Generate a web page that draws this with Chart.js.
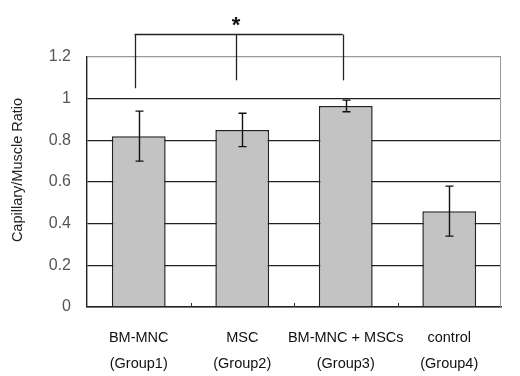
<!DOCTYPE html>
<html><head><meta charset="utf-8">
<script src="https://cdn.jsdelivr.net/npm/chart.js@4.4.1/dist/chart.umd.min.js"></script>
<style>html,body{margin:0;padding:0;background:#fff}#wrap{width:520px;height:376px}</style>
</head><body><div id="wrap"><canvas id="c" width="520" height="376"></canvas></div>
<script>
const groupNames = ['BM-MNC', 'MSC', 'BM-MNC + MSCs', 'control'];
const groupIds = ['(Group1)', '(Group2)', '(Group3)', '(Group4)'];
const means = [0.82, 0.85, 0.965, 0.46];
const errors = [0.12, 0.08, 0.028, 0.12];
const yTicks = [0, 0.2, 0.4, 0.6, 0.8, 1, 1.2];
const yTickLabels = ['0', '0.2', '0.4', '0.6', '0.8', '1', '1.2'];
const bracketAt = [-0.04, 0.94, 1.97];
const bracketEnds = [1.05, 1.088, 1.088];
const bracketTop = 1.31;
const starAt = 0.94, starY = 1.37, starText = '*';
const yTitle = 'Capillary/Muscle Ratio';

const labels = groupNames.map((n, i) => [n, groupIds[i]]);

const extras = {
  id: 'extras',
  afterDatasetsDraw(chart) {
    const ctx = chart.ctx, xs = chart.scales.x, ys = chart.scales.y, ca = chart.chartArea;
    ctx.save();
    ctx.strokeStyle = '#999'; ctx.lineWidth = 1;
    ctx.beginPath(); ctx.moveTo(ca.right - 0.5, ca.top); ctx.lineTo(ca.right - 0.5, ca.bottom); ctx.stroke();
    ctx.strokeStyle = '#333';
    for (let i = 0; i < labels.length - 1; i++) {
      const x = Math.round(xs.getPixelForValue(i + 0.5)) + 0.5;
      ctx.beginPath(); ctx.moveTo(x, ca.bottom); ctx.lineTo(x, ca.bottom - 4); ctx.stroke();
    }
    ctx.strokeStyle = '#111'; ctx.lineWidth = 1.4;
    const meta = chart.getDatasetMeta(0);
    meta.data.forEach((bar, i) => {
      const x = Math.round(bar.x) + 0.5;
      const yT = ys.getPixelForValue(means[i] + errors[i]);
      const yB = ys.getPixelForValue(means[i] - errors[i]);
      ctx.beginPath();
      ctx.moveTo(x, yT); ctx.lineTo(x, yB);
      ctx.moveTo(x - 4, yT); ctx.lineTo(x + 4, yT);
      ctx.moveTo(x - 4, yB); ctx.lineTo(x + 4, yB);
      ctx.stroke();
    });
    ctx.strokeStyle = '#222'; ctx.lineWidth = 1.3;
    const yTop = Math.round(ys.getPixelForValue(bracketTop)) + 0.5;
    const xL = xs.getPixelForValue(bracketAt[0]);
    const xR = xs.getPixelForValue(bracketAt[bracketAt.length - 1]);
    ctx.beginPath(); ctx.moveTo(xL, yTop); ctx.lineTo(xR, yTop); ctx.stroke();
    bracketAt.forEach((v, i) => {
      const x = Math.round(xs.getPixelForValue(v)) + 0.5;
      ctx.beginPath(); ctx.moveTo(x, yTop); ctx.lineTo(x, ys.getPixelForValue(bracketEnds[i])); ctx.stroke();
    });
    ctx.fillStyle = '#111';
    ctx.font = 'bold 22px "Liberation Sans", Arial, sans-serif';
    ctx.textAlign = 'center'; ctx.textBaseline = 'middle';
    ctx.fillText(starText, xs.getPixelForValue(starAt), ys.getPixelForValue(starY) + 4);
    ctx.save();
    ctx.translate(18, 170);
    ctx.rotate(-Math.PI / 2);
    ctx.font = '14.5px "Liberation Sans", Arial, sans-serif';
    ctx.fillStyle = '#222';
    ctx.fillText(yTitle, 0, 0);
    ctx.restore();
    ctx.restore();
  }
};

new Chart(document.getElementById('c'), {
  type: 'bar',
  data: {
    labels: labels,
    datasets: [{
      data: means,
      backgroundColor: '#c3c3c3',
      borderColor: '#222',
      borderWidth: 1.5,
      barPercentage: 0.52,
      categoryPercentage: 1.0
    }]
  },
  options: {
    responsive: false,
    animation: false,
    devicePixelRatio: 1,
    layout: { padding: { top: 57, right: 19, left: 0, bottom: 0 } },
    plugins: { legend: { display: false }, tooltip: { enabled: false } },
    scales: {
      x: {
        grid: { display: false },
        border: { display: true, color: '#222', width: 1.4 },
        ticks: {
          color: '#111', padding: 10, maxRotation: 0, autoSkip: false,
          font: { family: '"Liberation Sans", Arial, sans-serif', size: 14.5, lineHeight: 1.8 }
        },
        afterFit(s) { s.height = 69; }
      },
      y: {
        min: 0, max: 1.2,
        afterBuildTicks(s) { s.ticks = yTicks.map(v => ({ value: v })); },
        grid: {
          drawTicks: false,
          color: ctx => (ctx.tick && ctx.tick.value >= 1.2 ? '#999' : '#222'),
          lineWidth: 1.3
        },
        border: { display: true, color: '#222', width: 1.4 },
        ticks: {
          color: '#555', padding: 16,
          font: { family: '"Liberation Sans", Arial, sans-serif', size: 16 },
          callback: (v, i) => yTickLabels[i]
        },
        afterFit(s) { s.width = 87; }
      }
    }
  },
  plugins: [extras]
});
</script></body></html>
